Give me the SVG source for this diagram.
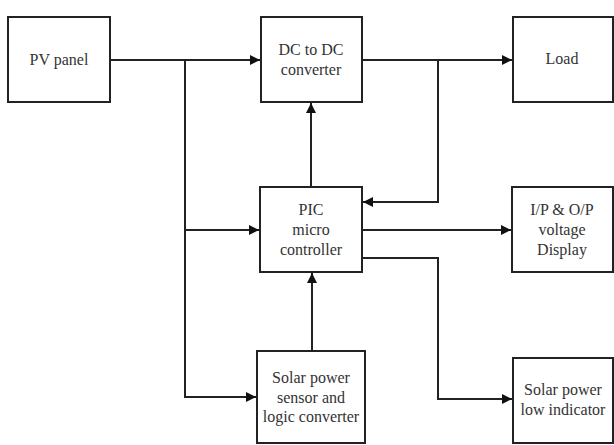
<svg xmlns="http://www.w3.org/2000/svg" width="614" height="445" viewBox="0 0 614 445">
<defs>
<style>
.box{fill:#fff;stroke:#222;stroke-width:2}
.t{font-family:'Liberation Serif','Times New Roman',serif;font-size:16px;fill:#333;text-anchor:middle}
.c{fill:none;stroke:#222;stroke-width:2}
</style>
<marker id="ah" viewBox="0 0 10 10" refX="10" refY="5" markerWidth="5" markerHeight="5" orient="auto" markerUnits="strokeWidth">
<path d="M0,0 L10,5 L0,10 z" fill="#111"/>
</marker>
</defs>
<rect width="614" height="445" fill="#fff"/>
<g id="connectors">
<path class="c" d="M110,60 H260" marker-end="url(#ah)"/>
<path class="c" d="M185,60 V397 H256" marker-end="url(#ah)"/>
<path class="c" d="M185,230 H259" marker-end="url(#ah)"/>
<path class="c" d="M362,60 H512" marker-end="url(#ah)"/>
<path class="c" d="M438,60 V202 H363" marker-end="url(#ah)"/>
<path class="c" d="M311,187 V103" marker-end="url(#ah)"/>
<path class="c" d="M312,351 V273" marker-end="url(#ah)"/>
<path class="c" d="M362,230 H511" marker-end="url(#ah)"/>
<path class="c" d="M362,258 H438 V399 H512" marker-end="url(#ah)"/>
</g>
<g id="pv">
<rect class="box" x="8" y="17" width="102" height="85"/>
<text class="t" x="59" y="65">PV panel</text>
</g>
<g id="dcdc">
<rect class="box" x="261" y="17" width="101" height="85"/>
<text class="t" x="311" y="55">DC to DC</text>
<text class="t" x="311" y="75">converter</text>
</g>
<g id="load">
<rect class="box" x="513" y="17" width="100" height="85"/>
<text class="t" x="562" y="64">Load</text>
</g>
<g id="pic">
<rect class="box" x="260" y="187" width="102" height="85"/>
<text class="t" x="311" y="215">PIC</text>
<text class="t" x="311" y="235">micro</text>
<text class="t" x="311" y="255">controller</text>
</g>
<g id="display">
<rect class="box" x="512" y="187" width="101" height="85"/>
<text class="t" x="562" y="215">I/P &amp; O/P</text>
<text class="t" x="562" y="235">voltage</text>
<text class="t" x="562" y="255">Display</text>
</g>
<g id="sensor">
<rect class="box" x="257" y="351" width="108" height="92"/>
<text class="t" x="311" y="383">Solar power</text>
<text class="t" x="311" y="403">sensor and</text>
<text class="t" x="311" y="422">logic converter</text>
</g>
<g id="lowind">
<rect class="box" x="513" y="358" width="100" height="85"/>
<text class="t" x="563" y="395">Solar power</text>
<text class="t" x="563" y="415">low indicator</text>
</g>
</svg>
